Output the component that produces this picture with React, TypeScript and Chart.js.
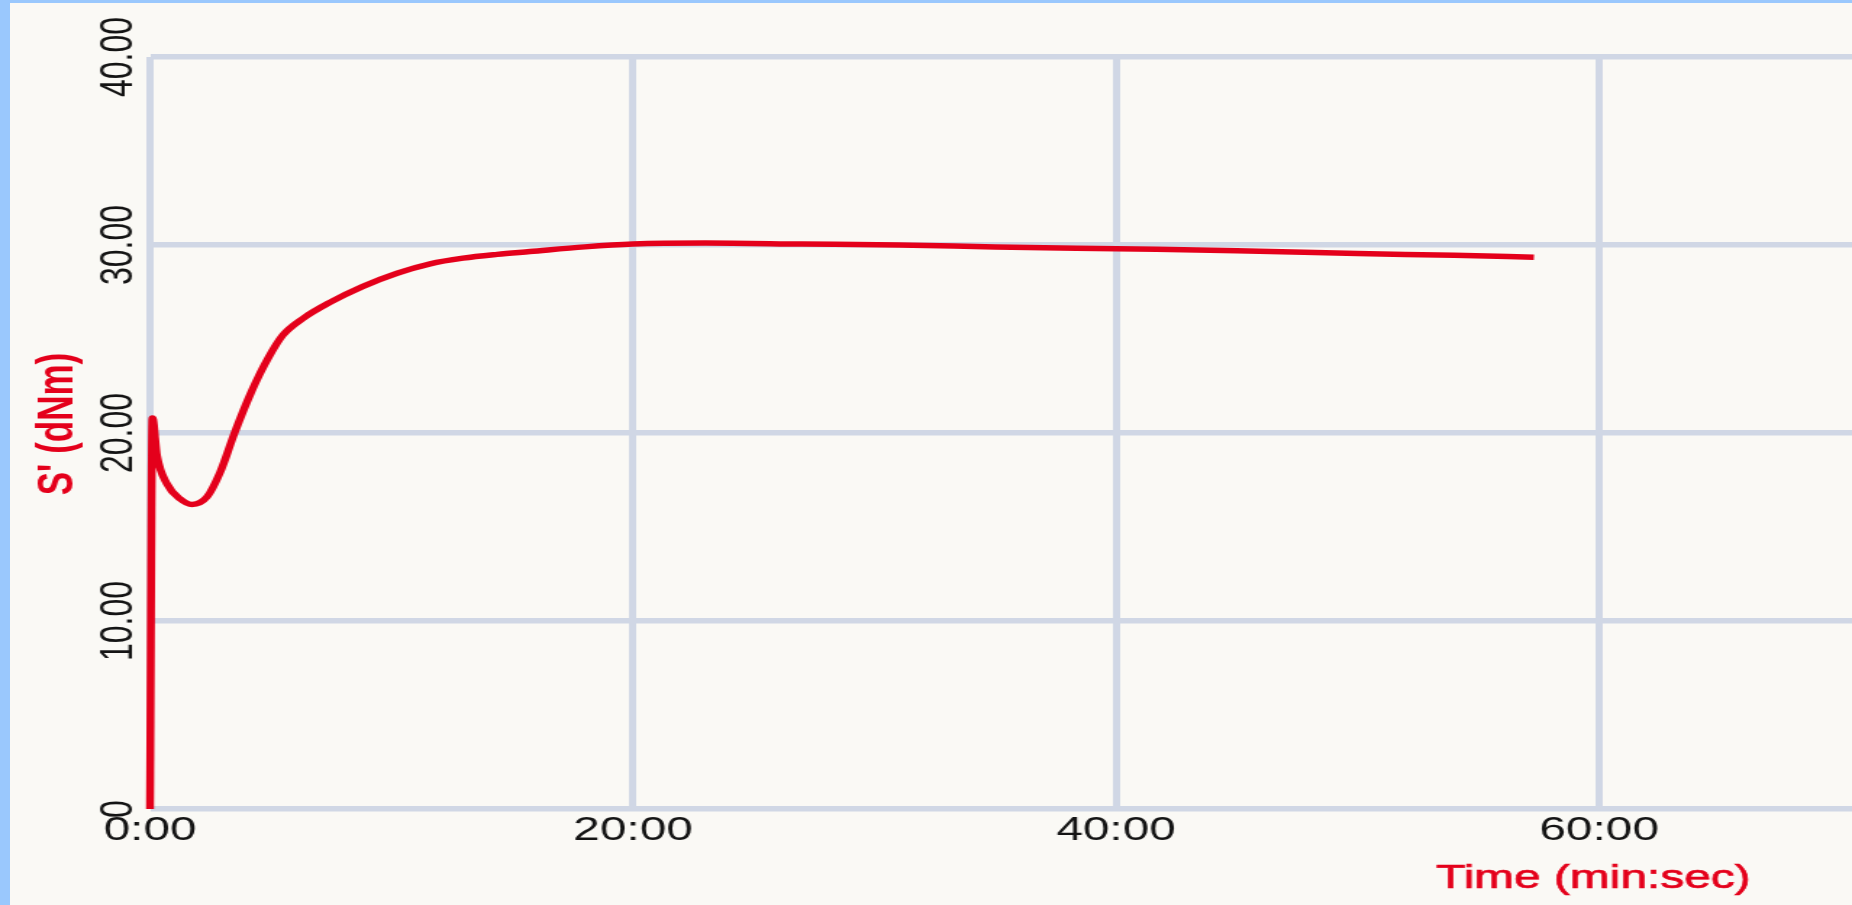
import React, { useEffect, useRef } from 'react';
import { Chart, registerables } from 'chart.js';

Chart.register(...registerables);

// ---- data ----
const timeMin = [0, 0.1, 0.29, 0.7, 1.24, 1.74, 2.36, 2.9, 3.5, 4.2, 4.9, 5.5, 6.34, 7.45, 8.82, 10.23, 11.6, 12.96, 14.37, 15.73, 18, 20, 23, 27, 31, 35, 40, 45, 50, 54, 57.3];
const torque = [0, 20.8, 18.8, 17.3, 16.5, 16.2, 16.6, 17.9, 20.0, 22.2, 24.0, 25.2, 26.1, 26.95, 27.8, 28.5, 29.0, 29.3, 29.5, 29.65, 29.9, 30.05, 30.1, 30.05, 30.0, 29.9, 29.8, 29.7, 29.55, 29.45, 29.35];

const xTickValues = [0, 20, 40, 60];
const xTickLabels = ['0:00', '20:00', '40:00', '60:00'];
const yTickValues = [0, 10, 20, 30, 40];
const yTickLabels = ['0', '10.00', '20.00', '30.00', '40.00'];

const yTitle = "S' (dNm)";
const xTitle = 'Time (min:sec)';

// ---- styling ----
const FULL_W = 1852;
const H = 905;
const NATIVE_W = 1278;
const SX = FULL_W / NATIVE_W;
const RED = '#e4001b';
const GRID = '#d0d7e5';
const FONT = '"Liberation Sans", Arial, Helvetica, sans-serif';

const titlesPlugin = {
  id: 'titlesPlugin',
  afterDraw(chart: any) {
    const ctx = chart.ctx;
    // x-axis title, right side under the axis
    ctx.save();
    ctx.font = `33px ${FONT}`;
    ctx.fillStyle = RED;
    ctx.strokeStyle = RED;
    ctx.lineWidth = 0.7;
    ctx.textAlign = 'right';
    ctx.textBaseline = 'alphabetic';
    ctx.fillText(xTitle, chart.width - 70, 888);
    ctx.strokeText(xTitle, chart.width - 70, 888);
    ctx.restore();
    // y-axis title, rotated
    ctx.save();
    ctx.translate(40.7, 424);
    ctx.rotate(-Math.PI / 2);
    ctx.font = `bold 35px ${FONT}`;
    ctx.fillStyle = RED;
    ctx.textAlign = 'center';
    ctx.textBaseline = 'middle';
    ctx.fillText(yTitle, 0, 0);
    ctx.restore();
  },
};

export default function App() {
  const ref = useRef<HTMLCanvasElement | null>(null);

  useEffect(() => {
    if (!ref.current) return;
    const points = timeMin.map((t, i) => ({ x: t, y: torque[i] }));
    const chart = new Chart(ref.current, {
      type: 'line',
      data: {
        datasets: [
          {
            data: points,
            borderColor: RED,
            borderWidth: 5.5,
            pointRadius: 0,
            cubicInterpolationMode: 'monotone',
            fill: false,
            clip: false as any,
          },
        ],
      },
      options: {
        animation: false,
        responsive: false,
        devicePixelRatio: 1,
        layout: { padding: { top: 57, left: 0, right: 0, bottom: 0 } },
        plugins: { legend: { display: false }, tooltip: { enabled: false } },
        scales: {
          x: {
            type: 'linear',
            min: 0,
            max: 70.47,
            afterBuildTicks: (s: any) => {
              s.ticks = xTickValues.map((v) => ({ value: v }));
            },
            afterFit: (s: any) => {
              s.height = 96;
              s.paddingLeft = 0;
              s.paddingRight = 0;
            },
            ticks: {
              autoSkip: false,
              maxRotation: 0,
              padding: 2,
              color: '#141414',
              font: { family: FONT, size: 33 },
              callback: (v: any) => xTickLabels[xTickValues.indexOf(Number(v))],
            },
            grid: { color: GRID, lineWidth: 5, drawTicks: false },
            border: { display: false },
          },
          y: {
            type: 'linear',
            min: 0,
            max: 40,
            afterBuildTicks: (s: any) => {
              s.ticks = yTickValues.map((v) => ({ value: v }));
            },
            afterFit: (s: any) => {
              s.width = 103.5;
              s.paddingTop = 0;
              s.paddingBottom = 0;
            },
            ticks: {
              autoSkip: false,
              minRotation: 90,
              maxRotation: 90,
              crossAlign: 'center',
              padding: -18.5,
              color: '#141414',
              font: { family: FONT, size: 32 },
              callback: (v: any) => yTickLabels[yTickValues.indexOf(Number(v))],
            },
            title: { display: false },
            grid: { color: GRID, lineWidth: 5.5, drawTicks: false },
            border: { display: false },
          },
        },
      } as any,
      plugins: [titlesPlugin],
    });
    return () => chart.destroy();
  }, []);

  return (
    <div
      style={{
        position: 'fixed',
        left: 0,
        top: 0,
        width: FULL_W,
        height: H,
        overflow: 'hidden',
        background: '#9ac8fd',
      }}
    >
      <div style={{ position: 'absolute', left: 10, top: 3, right: 0, bottom: 0, background: '#faf9f5' }} />
      <div
        style={{
          position: 'absolute',
          left: 0,
          top: 0,
          width: NATIVE_W,
          height: H,
          transform: `scaleX(${SX})`,
          transformOrigin: '0 0',
        }}
      >
        <canvas ref={ref} width={NATIVE_W} height={H} />
      </div>
    </div>
  );
}
